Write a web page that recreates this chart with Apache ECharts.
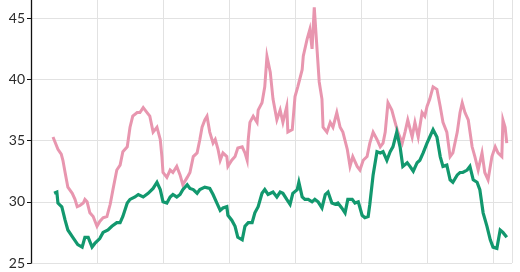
<!DOCTYPE html>
<html>
<head>
<meta charset="utf-8">
<script src="https://cdn.jsdelivr.net/npm/echarts@6/dist/echarts.min.js"></script>
<style>html,body{margin:0;padding:0;background:#fff}#c{width:520px;height:272px}</style>
</head>
<body>
<div id="c"></div>
<script>
// x: months since start of the series
const pinkMonths = [4.0,4.9,5.5,5.8,6.2,6.7,7.5,8.0,8.4,8.9,9.5,9.8,10.2,10.7,11.3,11.6,12.0,12.5,13.1,13.8,14.4,14.9,15.6,16.2,16.7,17.5,18.0,18.5,19.3,19.8,20.4,21.1,21.6,22.2,22.9,23.5,23.8,24.0,24.7,25.3,25.8,26.5,27.1,27.6,28.4,28.9,29.5,30.2,30.7,31.1,31.6,32.0,32.5,33.1,33.5,34.0,34.4,34.9,35.6,35.8,36.5,37.1,37.6,38.4,38.9,39.3,39.5,39.8,40.4,41.1,41.3,42.0,42.5,42.9,43.5,44.0,44.7,45.3,45.8,46.5,46.7,47.5,48.0,48.5,49.3,49.5,50.2,50.7,51.1,51.5,52.0,52.4,52.9,53.1,53.8,54.4,54.9,55.6,56.2,56.7,57.5,58.0,58.5,59.3,59.8,60.4,61.1,61.6,62.2,62.9,63.5,64.0,64.4,64.9,65.6,66.2,66.7,67.5,68.0,68.5,69.3,69.8,70.4,71.1,71.6,72.0,72.5,73.1,73.8,74.4,74.9,75.6,76.2,76.7,77.5,78.0,78.4,78.9,79.5,80.2,80.7,81.3,82.0,82.5,83.1,83.8,84.4,84.9,85.6,85.8,86.2,86.5];
const pinkValues = [35.3,34.3,33.9,33.4,32.4,31.2,30.7,30.2,29.6,29.7,29.9,30.2,30.0,29.1,28.8,28.7,28.0,28.4,28.7,28.8,29.8,31.0,32.6,33.0,34.1,34.5,36.1,37.0,37.3,37.3,37.7,37.3,37.0,35.7,36.1,35.1,33.7,32.4,32.0,32.6,32.4,32.9,32.2,31.4,32.0,32.4,33.7,34.0,35.1,36.1,36.7,37.0,35.7,34.8,35.1,34.3,33.4,34.0,33.7,32.9,33.4,33.7,34.4,34.5,34.0,33.4,35.1,36.5,37.0,36.5,37.5,38.1,39.4,41.9,40.6,38.4,36.7,37.5,36.5,37.8,35.7,35.9,38.6,39.4,40.8,41.9,43.3,44.1,42.5,45.9,42.5,39.8,38.4,36.1,35.7,36.5,36.1,37.3,36.1,35.7,34.3,32.9,33.7,32.9,32.6,33.4,33.7,34.8,35.7,35.1,34.5,34.8,35.7,38.1,37.5,36.5,35.7,34.8,35.7,36.7,35.3,36.5,35.3,37.3,37.0,37.8,38.4,39.4,39.2,37.8,36.5,35.7,33.7,34.0,35.7,37.3,38.1,37.3,36.7,34.5,33.7,32.6,34.0,32.4,31.8,33.7,34.5,34.0,33.7,36.7,36.1,34.8];
const greenMonths = [4.2,4.7,4.9,5.6,6.2,6.7,7.6,8.5,9.3,9.8,10.4,11.1,11.6,12.5,13.1,14.0,14.7,15.6,16.2,16.7,17.5,18.0,18.9,19.5,20.4,21.3,22.2,22.9,23.5,24.0,24.7,25.3,25.8,26.5,27.1,27.6,28.4,28.9,29.5,30.2,30.7,31.6,32.5,33.1,33.8,34.4,34.9,35.6,35.8,36.5,37.1,37.6,38.4,38.9,39.5,40.2,40.7,41.3,42.0,42.5,43.1,44.0,44.7,45.3,45.8,46.5,47.1,47.6,48.4,48.7,49.3,49.8,50.4,51.1,51.6,52.2,52.9,53.5,54.0,54.7,55.3,55.8,56.5,57.1,57.6,58.4,58.9,59.5,60.2,60.7,61.3,61.6,62.2,62.9,63.5,64.0,64.7,65.3,65.8,66.5,67.1,67.6,68.4,68.9,69.5,70.2,70.7,71.3,72.0,72.5,73.1,73.8,74.4,74.9,75.6,76.2,76.7,77.5,78.0,78.5,79.3,79.8,80.4,81.1,81.6,82.2,82.9,83.5,84.0,84.7,85.3,85.8,86.5];
const greenValues = [30.7,30.8,29.9,29.6,28.5,27.7,27.1,26.5,26.3,27.1,27.1,26.3,26.6,27.0,27.5,27.7,28.0,28.3,28.3,28.8,29.9,30.2,30.4,30.6,30.4,30.7,31.1,31.6,31.0,30.0,29.9,30.4,30.6,30.4,30.6,31.0,31.4,31.1,31.0,30.7,31.0,31.2,31.1,30.6,29.9,29.3,29.5,29.6,28.9,28.5,28.0,27.1,26.9,28.0,28.3,28.3,29.1,29.6,30.7,31.0,30.6,30.8,30.4,30.8,30.7,30.2,29.8,30.7,31.0,31.6,30.4,30.2,30.2,30.0,30.2,30.0,29.5,30.6,30.8,29.9,29.8,29.9,29.5,29.1,30.2,30.2,29.9,30.0,28.9,28.7,28.8,29.8,32.2,34.1,34.0,34.1,33.4,34.1,34.5,35.7,34.5,32.9,33.2,32.9,32.5,33.2,33.4,34.0,34.8,35.3,35.9,35.3,33.7,32.9,33.0,31.8,31.6,32.2,32.4,32.4,32.6,32.9,31.8,31.6,31.0,29.1,28.0,26.9,26.3,26.2,27.7,27.5,27.1];
const yTicks = [25, 30, 35, 40, 45];

const zip = (xs, ys) => xs.map((x, i) => [x, ys[i]]);

const chart = echarts.init(document.getElementById('c'), null, {renderer: 'canvas'});
chart.setOption({
  animation: false,
  backgroundColor: '#fff',
  grid: {left: 31, right: 8, top: 0, bottom: 9, containLabel: false},
  xAxis: {
    type: 'value', min: 0, max: 87.45, interval: 12,
    axisLine: {show: false}, axisTick: {show: false}, axisLabel: {show: false},
    splitLine: {show: true, lineStyle: {color: '#e2e2e2', width: 1}}
  },
  yAxis: {
    type: 'value', min: yTicks[0], max: 46.5, interval: 5,
    axisLine: {show: true, lineStyle: {color: '#111', width: 1.3}},
    axisTick: {show: true, length: 4, lineStyle: {color: '#111'}},
    axisLabel: {
      color: '#2a2a2a', fontFamily: 'Lato', fontSize: 14, margin: 6,
      showMaxLabel: false,
      formatter: v => (yTicks.indexOf(v) >= 0 ? String(v) : '')
    },
    splitLine: {show: true, showMaxLine: false, lineStyle: {color: '#e2e2e2', width: 1}}
  },
  series: [
    {type: 'line', data: zip(pinkMonths, pinkValues), showSymbol: false,
     lineStyle: {color: '#E896AF', width: 3, join: 'miter'}, itemStyle: {color: '#E896AF'}},
    {type: 'line', data: zip(greenMonths, greenValues), showSymbol: false,
     lineStyle: {color: '#12986E', width: 3.2, join: 'miter'}, itemStyle: {color: '#12986E'}}
  ]
});
</script>
</body>
</html>
